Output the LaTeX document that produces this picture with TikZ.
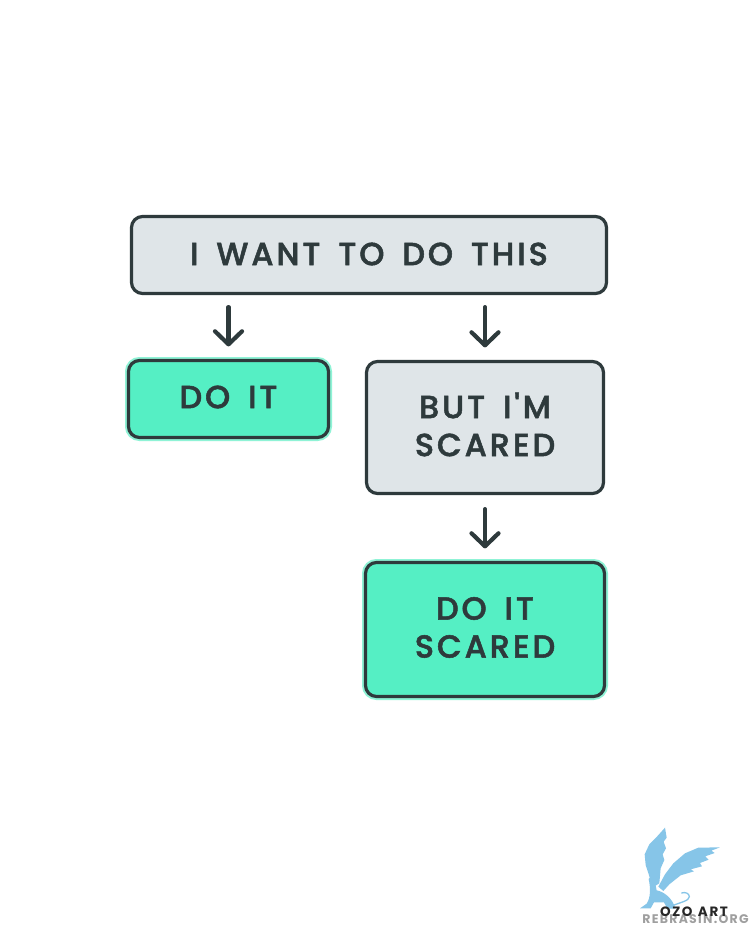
\documentclass[tikz,border=0pt]{standalone}
\usepackage{fontspec}
\setmainfont{Poppins}
\newfontfamily\boxfont[LetterSpace=9,WordSpace=1.6,FakeBold=1.6]{Poppins Medium}
\newfontfamily\logofont[LetterSpace=12,WordSpace=1.2]{Poppins}
\newfontfamily\markfont[LetterSpace=10]{Poppins}
\usetikzlibrary{arrows.meta}
\newcommand\liftup[2]{\raisebox{#1}[\height][\depth]{#2}}
\definecolor{inkc}{HTML}{2E3A3C}
\definecolor{greyfill}{HTML}{DFE5E8}
\definecolor{greenfill}{HTML}{55EFC4}
\definecolor{glowc}{HTML}{8FF3D6}
\definecolor{birdc}{HTML}{86C5E8}
\tikzset{
  x=1pt,y=-1pt,
  boxbase/.style={draw=inkc,line width=3.2pt,rounded corners=11pt,inner sep=0pt,align=center,
    text=inkc,font=\boxfont\fontsize{32}{38}\selectfont},
  greybox/.style={boxbase,fill=greyfill},
  greenbox/.style={boxbase,fill=greenfill,
    preaction={draw=glowc,line width=7pt}},
  flowarrow/.style={draw=inkc,line width=4.2pt,line cap=round,line join=round,
    -{Straight Barb[length=13pt,width=27pt,round,line width=4.2pt]},shorten <=12pt,shorten >=12.5pt},
}
\begin{document}
\begin{tikzpicture}
\useasboundingbox (0,0) rectangle (751,938);
\fill[white] (0,0) rectangle (751,938);
\node[greybox,minimum width=475pt,minimum height=77pt] (top) at (369,255) {\liftup{1pt}{I WANT TO DO THIS}};
\node[greenbox,minimum width=200pt,minimum height=77pt] (doit) at (228.5,399) {\liftup{2pt}{DO IT}};
\node[greybox,minimum width=237pt,minimum height=132pt] (scared) at (485,427.5) {\liftup{3pt}{BUT I'M}\\\liftup{3pt}{SCARED}};
\node[greenbox,minimum width=239pt,minimum height=134pt] (final) at (485,629.5) {\liftup{2pt}{DO IT}\\\liftup{2pt}{SCARED}};
\draw[flowarrow] (top.south -| doit.north) -- (doit.north);
\draw[flowarrow] (top.south -| scared.north) -- (scared.north);
\draw[flowarrow,shorten <=14pt] (scared.south) -- (final.north);
% logo
\begin{scope}[shift={(630,815)},x=0.3333pt,y=-0.3333pt]
\fill[birdc] (60,190) -- (47,150) -- (44,118) -- (58,88) -- (78,68) -- (105,38)
  -- (110,68) -- (101,80) -- (108,100) -- (98,118) -- (103,135) -- (92,160) -- (88,205) -- (72,215) -- cycle;
\fill[birdc] (85,215) -- (105,178) -- (130,145) -- (165,115) -- (205,98) -- (270,97)
  -- (244,107) -- (254,114) -- (226,124) -- (236,134) -- (210,144) -- (216,154) -- (182,163)
  -- (192,169) -- (152,181) -- (118,208) -- (100,228) -- cycle;
\fill[birdc] (56,192) -- (66,180) -- (82,186) -- (88,196) -- (74,198) -- (80,226)
  .. controls (102,230) and (128,250) .. (136,281) -- (112,281) -- (102,262) -- (72,262) -- (62,280) -- (30,280)
  -- (50,266) .. controls (62,248) and (62,220) .. (56,192) -- cycle;
\draw[birdc,line width=1.3pt,line cap=round] (128,272) .. controls (150,262) and (178,258) .. (178,245)
  .. controls (178,235) and (165,230) .. (155,234);
\end{scope}
\node[text=gray,opacity=.75,font=\markfont\fontsize{12.5}{12.5}\selectfont\bfseries,inner sep=0pt] (mark) at (695.5,919.5) {REBRASIN.ORG};
\node[text=black!85,font=\logofont\fontsize{13.5}{13.5}\selectfont\bfseries,inner sep=0pt] (ozo) at (694,912) {OZO ART};
\end{tikzpicture}
\end{document}
